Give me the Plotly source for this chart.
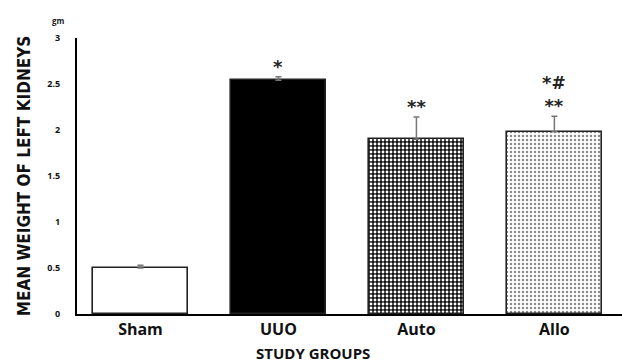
import plotly.graph_objects as go

groups = ["Sham", "UUO", "Auto", "Allo"]
mean_weight = [0.50, 2.54, 1.90, 1.98]
sem = [0.03, 0.04, 0.24, 0.17]
sig_labels = ["", "*", "**", "*<span style='font-size:17px'>#</span><br>**"]
y_ticks = [0, 0.5, 1, 1.5, 2, 2.5, 3]
y_tick_text = ["0", "0.5", "1", "1.5", "2", "2.5", "3"]

fill_colors = ["white", "black", "black", "white"]
patterns = [
    dict(shape=""),
    dict(shape=""),
    dict(shape=".", fgcolor="white", bgcolor="#111", size=4, solidity=0.4, fillmode="replace"),
    dict(shape=".", fgcolor="#8a8a8a", bgcolor="white", size=4, solidity=0.3, fillmode="replace"),
]

fig = go.Figure()
for i, g in enumerate(groups):
    fig.add_trace(go.Bar(
        x=[g], y=[mean_weight[i]],
        width=0.69,
        marker=dict(color=fill_colors[i], line=dict(color="#222", width=1.6), pattern=patterns[i]),
        error_y=dict(type="data", array=[sem[i]], arrayminus=[0], visible=True,
                     color="#777", thickness=1.5, width=3),
        showlegend=False,
        hoverinfo="skip",
    ))

for i, g in enumerate(groups):
    if sig_labels[i]:
        fig.add_annotation(
            x=g, y=mean_weight[i] + sem[i], yref="y", xref="x",
            text=sig_labels[i], showarrow=False, yanchor="bottom", yshift=-2,
            font=dict(family="DejaVu Sans", size=18, color="#222", weight="bold"),
            align="center",
        )

fig.add_annotation(
    x=(58 - 77) / 545, y=(363 - 21 - 49) / 276, xref="paper", yref="paper",
    text="gm", showarrow=False, xanchor="center", yanchor="middle",
    font=dict(family="Open Sans", size=8, color="#222", weight="bold"),
)

fig.add_annotation(
    x=(313 - 77) / 545, y=(363 - 353 - 49) / 276, xref="paper", yref="paper",
    text="STUDY GROUPS", showarrow=False, xanchor="center", yanchor="middle",
    font=dict(family="Open Sans", size=15, color="#111", weight="bold"),
)

fig.update_layout(
    width=622, height=363,
    margin=dict(l=77, r=0, t=38, b=49),
    paper_bgcolor="white", plot_bgcolor="white",
    bargap=0,
    font=dict(family="Open Sans", color="#111"),
    xaxis=dict(
        type="category", range=[-0.46, 3.49],
        showline=True, linecolor="black", linewidth=2,
        showgrid=False, ticks="", ticklen=0,
        ticklabelstandoff=0,
        tickfont=dict(family="Open Sans", size=16, color="#111", weight="bold"),
    ),
    yaxis=dict(
        range=[0, 3], tickvals=y_ticks, ticktext=y_tick_text,
        showline=True, linecolor="black", linewidth=2,
        showgrid=False, zeroline=False, ticks="",
        ticklabelstandoff=13,
        tickfont=dict(family="Open Sans", size=9, color="#111", weight="bold"),
        title=dict(text="MEAN WEIGHT OF LEFT KIDNEYS", standoff=12,
                   font=dict(family="DejaVu Sans Condensed", size=17, color="#111", weight="bold")),
    ),
)

fig.write_html(
    "out.html",
    config={"displayModeBar": False},
    post_script="document.body.style.margin='0';document.body.style.padding='0';",
)
